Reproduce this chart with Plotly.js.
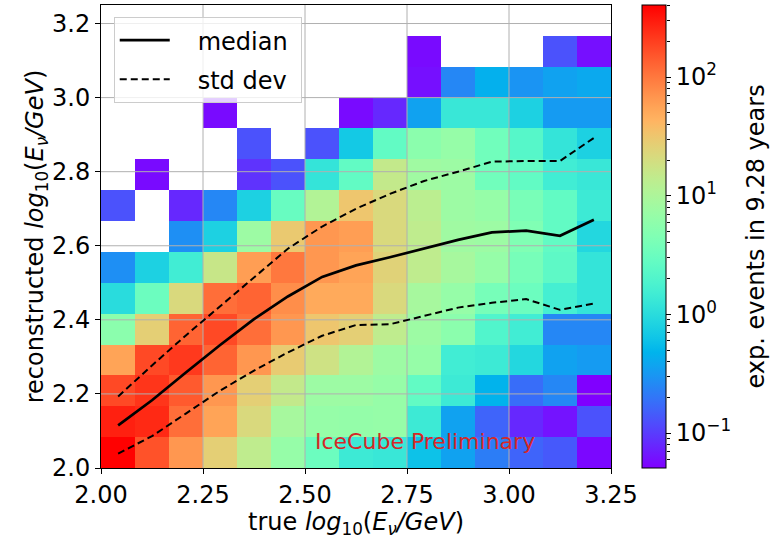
<!DOCTYPE html>
<html>
<head>
<meta charset="utf-8">
<script src="https://cdn.plot.ly/plotly-3.0.1.min.js"></script>
<style>
  html, body { margin: 0; padding: 0; background: #ffffff; }
  #plot { width: 772px; height: 539px; }
</style>
</head>
<body>
<div id="plot"></div>
<script>
// Bin edges of the 2D histogram (true vs reconstructed log10 energy)
const xEdges = [2.0, 2.0833, 2.1667, 2.25, 2.3333, 2.4167, 2.5, 2.5833, 2.6667,
                2.75, 2.8333, 2.9167, 3.0, 3.0833, 3.1667, 3.25];
const yEdges = [2.0, 2.0833, 2.1667, 2.25, 2.3333, 2.4167, 2.5, 2.5833, 2.6667,
                2.75, 2.8333, 2.9167, 3.0, 3.0833, 3.1667, 3.25];

// Expected events per bin, one row per reconstructed-energy bin (bottom to top)
const row00 = [400, 160, 66, 27, 14, 6.7, 3.2, 1.4, 1.3, 0.6, 0.36, 0.22, 0.16, 0.14, 0.055];
const row01 = [284, 256, 113, 55, 22, 9, 6.7, 6.5, 6.7, 1.4, 0.36, 0.16, 0.08, 0.063, 0.13];
const row02 = [178, 224, 145, 66, 27, 15, 7.6, 7.6, 6.7, 2.7, 1.4, 0.47, 0.18, 0.25, 0.051];
const row03 = [55, 178, 213, 129, 66, 29, 18, 11, 7.6, 6.7, 1.5, 1.4, 0.9, 0.36, 0.33];
const row04 = [5.6, 27, 129, 178, 113, 66, 32, 27, 14, 7.6, 5.6, 2.0, 1.5, 0.25, 0.25];
const row05 = [1.0, 3.2, 22, 113, 129, 75, 50, 50, 22, 9, 6.7, 3.9, 3.2, 1.6, 1.2];
const row06 = [0.28, 0.8, 1.5, 16, 60, 100, 66, 55, 25, 14, 9, 6.7, 3.9, 2.5, 1.2];
const row07 = [null, null, 0.28, 0.8, 7.6, 30, 66, 60, 22, 14, 8, 7.6, 4.5, 2.7, 0.9];
const row08 = [0.13, null, 0.08, 0.25, 0.8, 3, 11, 32, 22, 13, 7.6, 6.7, 4, 2.7, 1.4];
const row09 = [null, 0.057, null, null, 0.09, 0.13, 1.2, 2.7, 15, 8, 7.6, 3.5, 2.7, 1.5, 1.3];
const row10 = [null, null, null, null, 0.13, null, 0.13, 0.68, 2.7, 5.6, 6.7, 3.5, 2.2, 1.2, 0.8];
const row11 = [null, null, null, 0.057, null, null, null, 0.057, 0.08, 0.36, 1.3, 1.3, 0.8, 0.33, 0.33];
const row12 = [null, null, null, null, null, null, null, null, null, 0.06, 0.25, 0.45, 0.3, 0.36, 0.4];
const row13 = [null, null, null, null, null, null, null, null, null, 0.057, null, null, null, 0.13, 0.06];
const row14 = [null, null, null, null, null, null, null, null, null, null, null, null, null, null, null];
const counts = [row00, row01, row02, row03, row04, row05, row06, row07,
                row08, row09, row10, row11, row12, row13, row14];

// Median and +/- standard deviation of the reconstructed energy per true-energy bin
const binCenters = [2.042, 2.125, 2.208, 2.292, 2.375, 2.458, 2.542, 2.625,
                    2.708, 2.792, 2.875, 2.958, 3.042, 3.125, 3.208];
const median = [2.115, 2.183, 2.258, 2.332, 2.402, 2.463, 2.516, 2.547,
                2.569, 2.592, 2.616, 2.636, 2.641, 2.627, 2.670];
const stdUpper = [2.193, 2.277, 2.358, 2.436, 2.513, 2.592, 2.652, 2.700,
                  2.740, 2.775, 2.800, 2.827, 2.829, 2.829, 2.891];
const stdLower = [2.039, 2.086, 2.147, 2.209, 2.263, 2.312, 2.357, 2.386,
                  2.388, 2.410, 2.433, 2.446, 2.456, 2.427, 2.444];

// Axis ticks
const xTicks = [2.0, 2.25, 2.5, 2.75, 3.0, 3.25];
const xTickText = ['2.00', '2.25', '2.50', '2.75', '3.00', '3.25'];
const yTicks = [2.0, 2.2, 2.4, 2.6, 2.8, 3.0, 3.2];
const yTickText = ['2.0', '2.2', '2.4', '2.6', '2.8', '3.0', '3.2'];
const cbarMajor = [-1, 0, 1, 2];
const cbarMajorText = ['10<sup>\u22121</sup>', '10<sup>0</sup>', '10<sup>1</sup>', '10<sup>2</sup>'];

// Colour range of the log-scaled colour bar (events)
const zMinEvents = 0.0508;
const zMaxEvents = 405;

const FONT = 'DejaVu Sans, Liberation Sans, sans-serif';
const X_RANGE = [2.0, 3.25];
const Y_RANGE = [2.0, 3.25];

// Page geometry (pixels)
const W = 772, H = 539;
const M = { l: 101, r: 0, t: 5, b: 71 };
const plotRight = 611;           // right edge of the histogram frame
const cbarLeft = 642, cbarWidth = 24;
const cbarLabelX = 755;
const paperW = W - M.l - M.r;
const px = p => (p - M.l) / paperW;

// matplotlib "rainbow" colour map
function rainbow(t) {
  const r = Math.min(1, Math.abs(2 * t - 0.5));
  const g = Math.sin(Math.PI * t);
  const b = Math.cos(Math.PI * t / 2);
  const c = v => Math.round(Math.max(0, Math.min(1, v)) * 255);
  return 'rgb(' + c(r) + ',' + c(g) + ',' + c(b) + ')';
}
const colorscale = [];
for (let i = 0; i <= 40; i++) colorscale.push([i / 40, rainbow(i / 40)]);

// Heatmap drawn in log10 space so the colour bar is logarithmic
const zLog = counts.map(row => row.map(v => (v === null ? null : Math.log10(v))));
const zMin = Math.log10(zMinEvents);
const zMax = Math.log10(zMaxEvents);

// Sub-decade positions for the colour bar's minor ticks
const cbarMinor = [];
for (let d = -2; d <= 2; d++) {
  for (let k = 2; k <= 9; k++) {
    const v = d + Math.log10(k);
    if (v >= zMin && v <= zMax) cbarMinor.push(v);
  }
}

const heat = {
  type: 'heatmap',
  x: xEdges,
  y: yEdges,
  z: zLog,
  zmin: zMin,
  zmax: zMax,
  colorscale: colorscale,
  zsmooth: false,
  hoverongaps: false,
  showlegend: false,
  colorbar: {
    x: px(cbarLeft), xanchor: 'left', xpad: 0,
    y: 0.5, yanchor: 'middle', ypad: 0,
    len: 1, lenmode: 'fraction',
    thickness: cbarWidth, thicknessmode: 'pixels',
    outlinewidth: 1, outlinecolor: '#000000',
    tickmode: 'array', tickvals: cbarMajor, ticktext: cbarMajorText,
    ticks: 'outside', ticklen: 5, tickwidth: 1, tickcolor: '#000000',
    tickfont: { family: FONT, size: 24, color: '#000000' }
  }
};

// Grid lines sit above the histogram cells but below the curves
const gx = [], gy = [];
xTicks.slice(1, -1).forEach(t => { gx.push(t, t, null); gy.push(Y_RANGE[0], Y_RANGE[1], null); });
yTicks.slice(1).forEach(t => { gx.push(X_RANGE[0], X_RANGE[1], null); gy.push(t, t, null); });
const grid = {
  type: 'scatter', mode: 'lines', x: gx, y: gy,
  line: { color: '#b0b0b0', width: 1 },
  hoverinfo: 'skip', showlegend: false
};

const medianTrace = {
  type: 'scatter', mode: 'lines', name: '\u00a0\u00a0\u00a0median\u00a0',
  x: binCenters, y: median,
  line: { color: '#000000', width: 2.7 }
};
const upperTrace = {
  type: 'scatter', mode: 'lines', name: '\u00a0\u00a0\u00a0std dev', legendgroup: 'std',
  x: binCenters, y: stdUpper,
  line: { color: '#000000', width: 2, dash: '7px,4px' }
};
const lowerTrace = {
  type: 'scatter', mode: 'lines', name: 'std dev', legendgroup: 'std', showlegend: false,
  x: binCenters, y: stdLower,
  line: { color: '#000000', width: 2, dash: '7px,4px' }
};

// Carrier for the colour bar's minor ticks (an axis placed on the bar's right edge)
const minorCarrier = {
  type: 'scatter', mode: 'lines', x: [], y: [], yaxis: 'y2',
  hoverinfo: 'skip', showlegend: false
};

const axisCommon = {
  showline: true, linecolor: '#000000', linewidth: 1, mirror: true,
  ticks: 'outside', ticklen: 5, tickwidth: 1, tickcolor: '#000000',
  showgrid: false, zeroline: false, tickmode: 'array',
  tickfont: { family: FONT, size: 24, color: '#000000' }
};

const layout = {
  width: W, height: H,
  margin: { l: M.l, r: M.r, t: M.t, b: M.b, pad: 0 },
  paper_bgcolor: '#ffffff', plot_bgcolor: '#ffffff',
  font: { family: FONT, color: '#000000' },
  xaxis: Object.assign({}, axisCommon, {
    domain: [0, px(plotRight)],
    range: X_RANGE, tickvals: xTicks, ticktext: xTickText,
    title: { text: 'true <i>log</i><sub>10</sub>(<i>E</i><sub><i>\u03bd</i></sub><i>/GeV</i>)',
             font: { family: FONT, size: 24, color: '#000000' }, standoff: 2 }
  }),
  yaxis: Object.assign({}, axisCommon, {
    range: Y_RANGE, tickvals: yTicks, ticktext: yTickText,
    title: { text: 'reconstructed <i>log</i><sub>10</sub>(<i>E</i><sub><i>\u03bd</i></sub><i>/GeV</i>)',
             font: { family: FONT, size: 24, color: '#000000' }, standoff: 1 }
  }),
  yaxis2: {
    overlaying: 'y', anchor: 'free', side: 'right',
    position: px(cbarLeft + cbarWidth),
    range: [zMin, zMax], tickmode: 'array', tickvals: cbarMinor,
    ticks: 'outside', ticklen: 3, tickwidth: 1, tickcolor: '#000000',
    showticklabels: false, showgrid: false, zeroline: false, showline: false,
    fixedrange: true
  },
  legend: {
    x: 0.019, y: 0.974, xanchor: 'left', yanchor: 'top',
    bgcolor: 'rgba(255,255,255,0.8)', bordercolor: '#cccccc', borderwidth: 1,
    font: { family: FONT, size: 24, color: '#000000' },
    tracegroupgap: 5, itemwidth: 50
  },
  annotations: [
    {
      xref: 'paper', yref: 'paper', x: px(425), y: 0.057,
      xanchor: 'center', yanchor: 'middle', showarrow: false,
      text: 'IceCube Preliminary',
      font: { family: FONT, size: 22, color: '#d62728' }
    },
    {
      xref: 'paper', yref: 'paper', x: px(cbarLabelX), y: 0.5,
      xanchor: 'center', yanchor: 'middle', showarrow: false, textangle: -90,
      text: 'exp. events in 9.28 years',
      font: { family: FONT, size: 24, color: '#000000' }
    }
  ]
};

Plotly.newPlot('plot', [heat, grid, medianTrace, upperTrace, lowerTrace, minorCarrier], layout,
               { displayModeBar: false, staticPlot: true });
</script>
</body>
</html>
